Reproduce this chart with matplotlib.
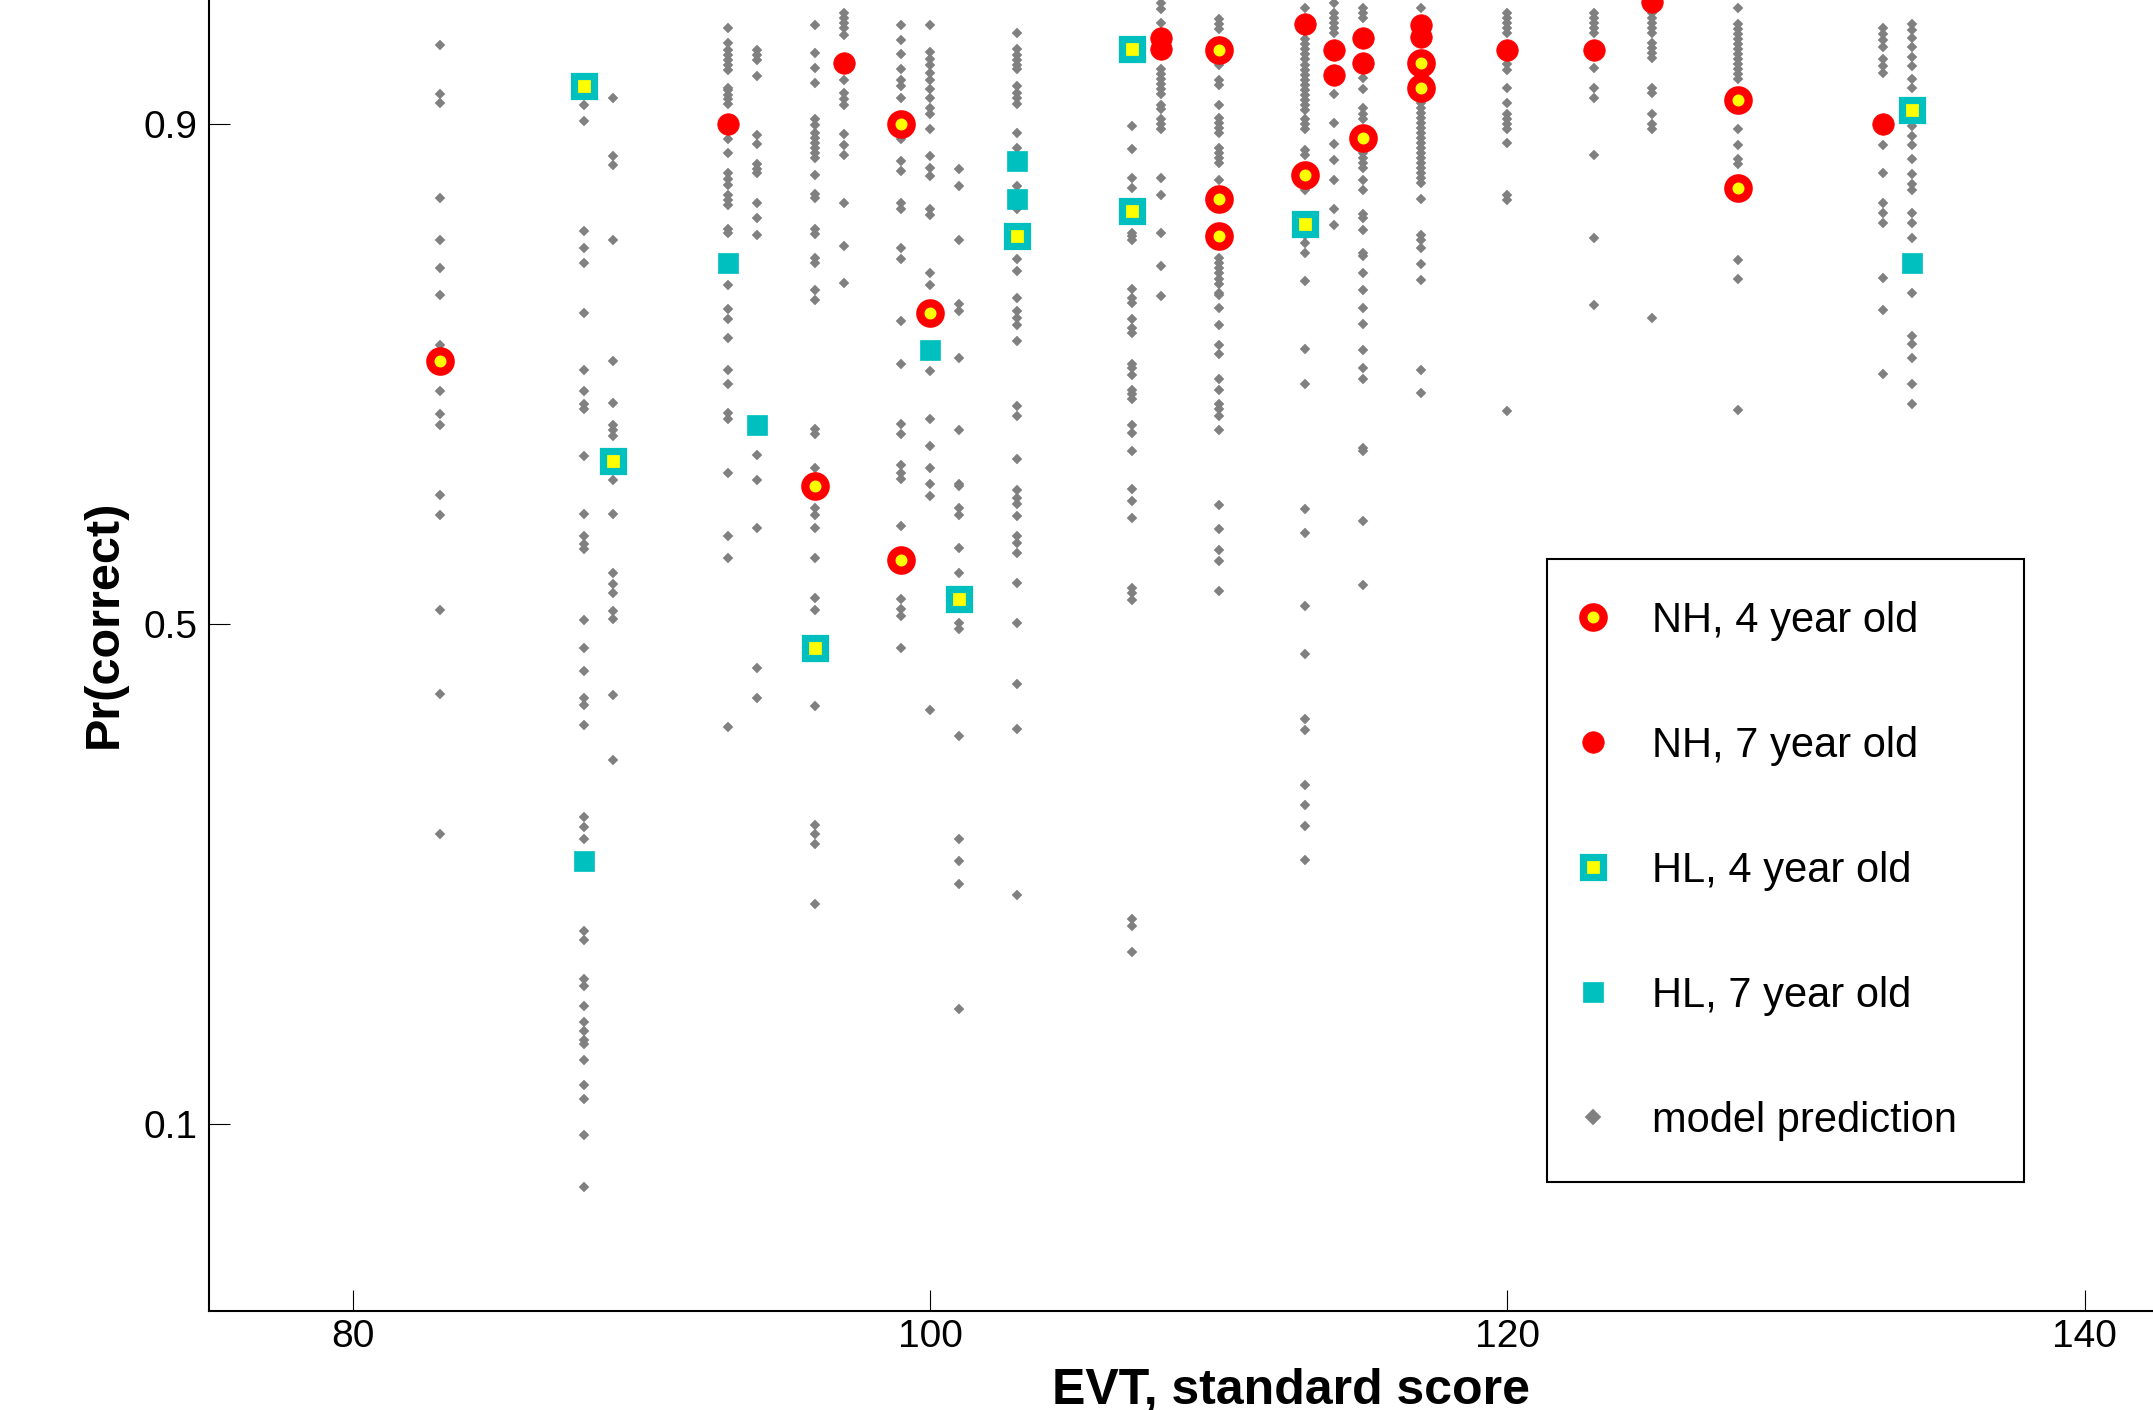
import matplotlib

matplotlib.use("Agg")

import matplotlib.pyplot as plt

plt.rcParams["font.family"] = ["Liberation Sans", "DejaVu Sans"]

# Measured data (EVT standard score, proportion correct)
nh4_x = [83, 96, 99, 99, 100, 110, 110, 110, 113, 115, 117, 117, 128, 128]
nh4_y = [0.710, 0.610, 0.900, 0.551, 0.749, 0.959, 0.840, 0.810, 0.859, 0.889, 0.949, 0.929, 0.919, 0.849]

nh7_x = [93, 97, 108, 108, 113, 114, 114, 115, 115, 117, 117, 120, 123, 125, 133]
nh7_y = [0.900, 0.949, 0.969, 0.960, 0.980, 0.959, 0.939, 0.969, 0.949, 0.979, 0.970, 0.959, 0.959, 0.998, 0.900]

hl4_x = [88, 89, 96, 101, 103, 107, 107, 113, 134]
hl4_y = [0.930, 0.630, 0.481, 0.520, 0.810, 0.960, 0.830, 0.820, 0.911]

hl7_x = [88, 93, 94, 100, 103, 103, 134]
hl7_y = [0.310, 0.789, 0.659, 0.719, 0.870, 0.840, 0.789]

# Model predictions, one list per EVT score
pred_83 = [0.963, 0.924, 0.917, 0.841, 0.807, 0.785, 0.763, 0.723, 0.686, 0.668, 0.659, 0.603, 0.587, 0.511, 0.444, 0.332]
pred_88 = [0.915, 0.902, 0.814, 0.801, 0.789, 0.749, 0.703, 0.686, 0.676, 0.672, 0.634, 0.588, 0.570, 0.564, 0.560,
           0.503, 0.481, 0.462, 0.441, 0.435, 0.419, 0.345, 0.337, 0.328, 0.254, 0.247, 0.216, 0.210, 0.194, 0.181,
           0.174, 0.167, 0.164, 0.151, 0.131, 0.120, 0.091, 0.049]
pred_89 = [0.921, 0.874, 0.867, 0.807, 0.710, 0.677, 0.659, 0.655, 0.650, 0.615, 0.588, 0.541, 0.532, 0.525, 0.510,
           0.504, 0.443, 0.391]
pred_93 = [0.977, 0.965, 0.959, 0.955, 0.951, 0.947, 0.943, 0.929, 0.927, 0.923, 0.920, 0.916, 0.888, 0.877, 0.861,
           0.856, 0.851, 0.843, 0.839, 0.835, 0.816, 0.813, 0.771, 0.752, 0.744, 0.729, 0.703, 0.692, 0.669, 0.664,
           0.621, 0.570, 0.553, 0.417]
pred_94 = [0.959, 0.955, 0.951, 0.938, 0.891, 0.884, 0.868, 0.864, 0.861, 0.837, 0.825, 0.811, 0.635, 0.615, 0.577,
           0.465, 0.441]
pred_96 = [0.979, 0.957, 0.945, 0.933, 0.904, 0.899, 0.893, 0.889, 0.885, 0.881, 0.877, 0.873, 0.859, 0.844, 0.841,
           0.816, 0.812, 0.793, 0.789, 0.767, 0.759, 0.656, 0.652, 0.625, 0.593, 0.587, 0.577, 0.553, 0.521, 0.511,
           0.434, 0.339, 0.332, 0.324, 0.276]
pred_97 = [0.989, 0.985, 0.981, 0.977, 0.971, 0.935, 0.925, 0.920, 0.915, 0.892, 0.883, 0.875, 0.837, 0.802, 0.773]
pred_99 = [0.979, 0.967, 0.956, 0.944, 0.935, 0.930, 0.921, 0.888, 0.870, 0.862, 0.837, 0.832, 0.801, 0.792, 0.742,
           0.708, 0.660, 0.652, 0.627, 0.621, 0.616, 0.578, 0.520, 0.512, 0.506, 0.481]
pred_100 = [0.979, 0.958, 0.952, 0.947, 0.941, 0.935, 0.928, 0.921, 0.913, 0.908, 0.896, 0.874, 0.865, 0.858, 0.832,
            0.827, 0.781, 0.771, 0.702, 0.664, 0.642, 0.625, 0.612, 0.602, 0.431]
pred_101 = [0.864, 0.850, 0.807, 0.756, 0.750, 0.713, 0.655, 0.612, 0.610, 0.593, 0.587, 0.561, 0.541, 0.501, 0.496,
            0.410, 0.328, 0.310, 0.292, 0.192]
pred_103 = [0.973, 0.960, 0.955, 0.951, 0.947, 0.944, 0.930, 0.925, 0.921, 0.916, 0.893, 0.881, 0.850, 0.832, 0.792,
            0.782, 0.761, 0.750, 0.745, 0.739, 0.726, 0.674, 0.666, 0.632, 0.607, 0.601, 0.596, 0.586, 0.570, 0.565,
            0.557, 0.533, 0.501, 0.452, 0.416, 0.283]
pred_107 = [0.898, 0.880, 0.857, 0.849, 0.813, 0.810, 0.807, 0.768, 0.761, 0.757, 0.744, 0.737, 0.733, 0.708, 0.705,
            0.699, 0.687, 0.684, 0.680, 0.659, 0.653, 0.638, 0.608, 0.598, 0.585, 0.529, 0.525, 0.519, 0.264, 0.258,
            0.237]
pred_108 = [0.997, 0.992, 0.981, 0.944, 0.940, 0.936, 0.932, 0.928, 0.924, 0.915, 0.912, 0.904, 0.900, 0.896, 0.857,
            0.843, 0.813, 0.786, 0.762]
pred_110 = [0.984, 0.980, 0.976, 0.947, 0.935, 0.931, 0.915, 0.905, 0.901, 0.897, 0.893, 0.881, 0.877, 0.873, 0.869,
            0.855, 0.793, 0.789, 0.785, 0.781, 0.776, 0.772, 0.765, 0.763, 0.753, 0.739, 0.723, 0.716, 0.696, 0.687,
            0.676, 0.672, 0.666, 0.655, 0.595, 0.576, 0.559, 0.550, 0.526]
pred_113 = [0.993, 0.968, 0.964, 0.960, 0.956, 0.952, 0.947, 0.943, 0.939, 0.935, 0.931, 0.927, 0.923, 0.919, 0.915,
            0.911, 0.904, 0.900, 0.896, 0.879, 0.875, 0.847, 0.811, 0.805, 0.797, 0.774, 0.720, 0.692, 0.592, 0.573,
            0.514, 0.476, 0.424, 0.415, 0.371, 0.355, 0.338, 0.311]
pred_114 = [0.997, 0.989, 0.985, 0.981, 0.977, 0.973, 0.924, 0.901, 0.884, 0.871, 0.855, 0.832, 0.819]
pred_115 = [0.993, 0.989, 0.985, 0.937, 0.928, 0.913, 0.908, 0.904, 0.877, 0.873, 0.869, 0.865, 0.855, 0.847, 0.828,
            0.825, 0.815, 0.797, 0.794, 0.781, 0.767, 0.753, 0.740, 0.719, 0.705, 0.696, 0.641, 0.638, 0.582, 0.531]
pred_117 = [0.993, 0.917, 0.913, 0.909, 0.905, 0.901, 0.897, 0.893, 0.889, 0.885, 0.881, 0.877, 0.873, 0.869, 0.865,
            0.861, 0.857, 0.853, 0.840, 0.811, 0.807, 0.801, 0.788, 0.775, 0.703, 0.685]
pred_120 = [0.989, 0.985, 0.981, 0.977, 0.973, 0.948, 0.943, 0.929, 0.917, 0.908, 0.904, 0.900, 0.896, 0.885, 0.843,
            0.839, 0.670]
pred_123 = [0.989, 0.985, 0.981, 0.977, 0.973, 0.945, 0.929, 0.921, 0.875, 0.809, 0.755]
pred_125 = [0.989, 0.985, 0.981, 0.977, 0.973, 0.965, 0.961, 0.957, 0.953, 0.929, 0.925, 0.908, 0.900, 0.896, 0.745]
pred_128 = [0.993, 0.980, 0.976, 0.972, 0.968, 0.964, 0.960, 0.956, 0.952, 0.948, 0.944, 0.940, 0.936, 0.896, 0.883,
            0.872, 0.868, 0.791, 0.776, 0.671]
pred_133 = [0.977, 0.972, 0.967, 0.962, 0.952, 0.946, 0.941, 0.883, 0.861, 0.837, 0.829, 0.821, 0.777, 0.751, 0.700]
pred_134 = [0.980, 0.975, 0.969, 0.962, 0.954, 0.946, 0.936, 0.929, 0.898, 0.890, 0.883, 0.872, 0.860, 0.852, 0.847,
            0.829, 0.821, 0.809, 0.765, 0.730, 0.724, 0.713, 0.692, 0.676]

pred_scores = [83, 88, 89, 93, 94, 96, 97, 99, 100, 101, 103, 107, 108, 110, 113, 114, 115, 117, 120, 123, 125,
               128, 133, 134]
pred_lists = [pred_83, pred_88, pred_89, pred_93, pred_94, pred_96, pred_97, pred_99, pred_100, pred_101, pred_103,
              pred_107, pred_108, pred_110, pred_113, pred_114, pred_115, pred_117, pred_120, pred_123, pred_125,
              pred_128, pred_133, pred_134]

x_ticks = [80, 100, 120, 140]
y_ticks = [0.1, 0.5, 0.9]
y_tick_labels = ["0.1", "0.5", "0.9"]

RED = "#ff0000"
YELLOW = "#ffff00"
CYAN = "#00bfbf"
GRAY = "#808080"

model_x = []
model_y = []
for score, values in zip(pred_scores, pred_lists):
    model_x.extend([score] * len(values))
    model_y.extend(values)

fig = plt.figure(figsize=(21.53, 14.10), dpi=100)
fig.patch.set_facecolor("white")
# the original figure is cropped: axes run past the top and right edges
ax = fig.add_axes([0.097, 0.0702, 1.0053, 0.9748])

h_model, = ax.plot(model_x, model_y, linestyle="none", marker="D", markersize=4.9,
                   markerfacecolor=GRAY, markeredgecolor=GRAY, markeredgewidth=0.3,
                   label="model prediction", zorder=2)
h_nh4, = ax.plot(nh4_x, nh4_y, linestyle="none", marker="o", markersize=14.6,
                 markerfacecolor=YELLOW, markeredgecolor=RED, markeredgewidth=6.0,
                 label="NH, 4 year old", zorder=3)
h_nh7, = ax.plot(nh7_x, nh7_y, linestyle="none", marker="o", markersize=15.5,
                 markerfacecolor=RED, markeredgecolor=RED, markeredgewidth=0.5,
                 label="NH, 7 year old", zorder=3)
h_hl4, = ax.plot(hl4_x, hl4_y, linestyle="none", marker="s", markersize=14,
                 markerfacecolor=YELLOW, markeredgecolor=CYAN, markeredgewidth=5.2,
                 label="HL, 4 year old", zorder=3)
h_hl7, = ax.plot(hl7_x, hl7_y, linestyle="none", marker="s", markersize=15,
                 markerfacecolor=CYAN, markeredgecolor=CYAN, markeredgewidth=0.5,
                 label="HL, 7 year old", zorder=3)

ax.set_xlim(75, 150)
ax.set_ylim(-0.05, 1.05)
ax.set_xticks(x_ticks)
ax.set_yticks(y_ticks)
ax.set_yticklabels(y_tick_labels)
ax.tick_params(direction="in", length=15, width=0.8, labelsize=28, colors="black")
ax.tick_params(axis="x", pad=6)
ax.tick_params(axis="y", pad=8)
for side in ["left", "bottom", "top", "right"]:
    ax.spines[side].set_linewidth(1.5)
    ax.spines[side].set_color("black")

ax.set_xlabel("EVT, standard score", fontsize=36, fontweight="bold", labelpad=9)
ax.set_ylabel("Pr(correct)", fontsize=35, fontweight="bold", labelpad=12)

leg = ax.legend(
    handles=[h_nh4, h_nh7, h_hl4, h_hl7, h_model],
    loc="upper left",
    bbox_to_anchor=(1547 / 2153, 1 - 559 / 1410, 477 / 2153, 0.0),
    bbox_transform=fig.transFigure,
    mode="expand",
    borderaxespad=0.0,
    numpoints=1,
    fontsize=30,
    frameon=True,
    fancybox=False,
    framealpha=1.0,
    edgecolor="black",
    handlelength=0.2,
    handletextpad=1.32,
    borderpad=1.0,
    labelspacing=2.04,
)
leg.get_frame().set_linewidth(1.5)
leg.legend_handles[4].set_markersize(8)

fig.savefig("out.png", dpi=100, facecolor="white")
plt.close(fig)
